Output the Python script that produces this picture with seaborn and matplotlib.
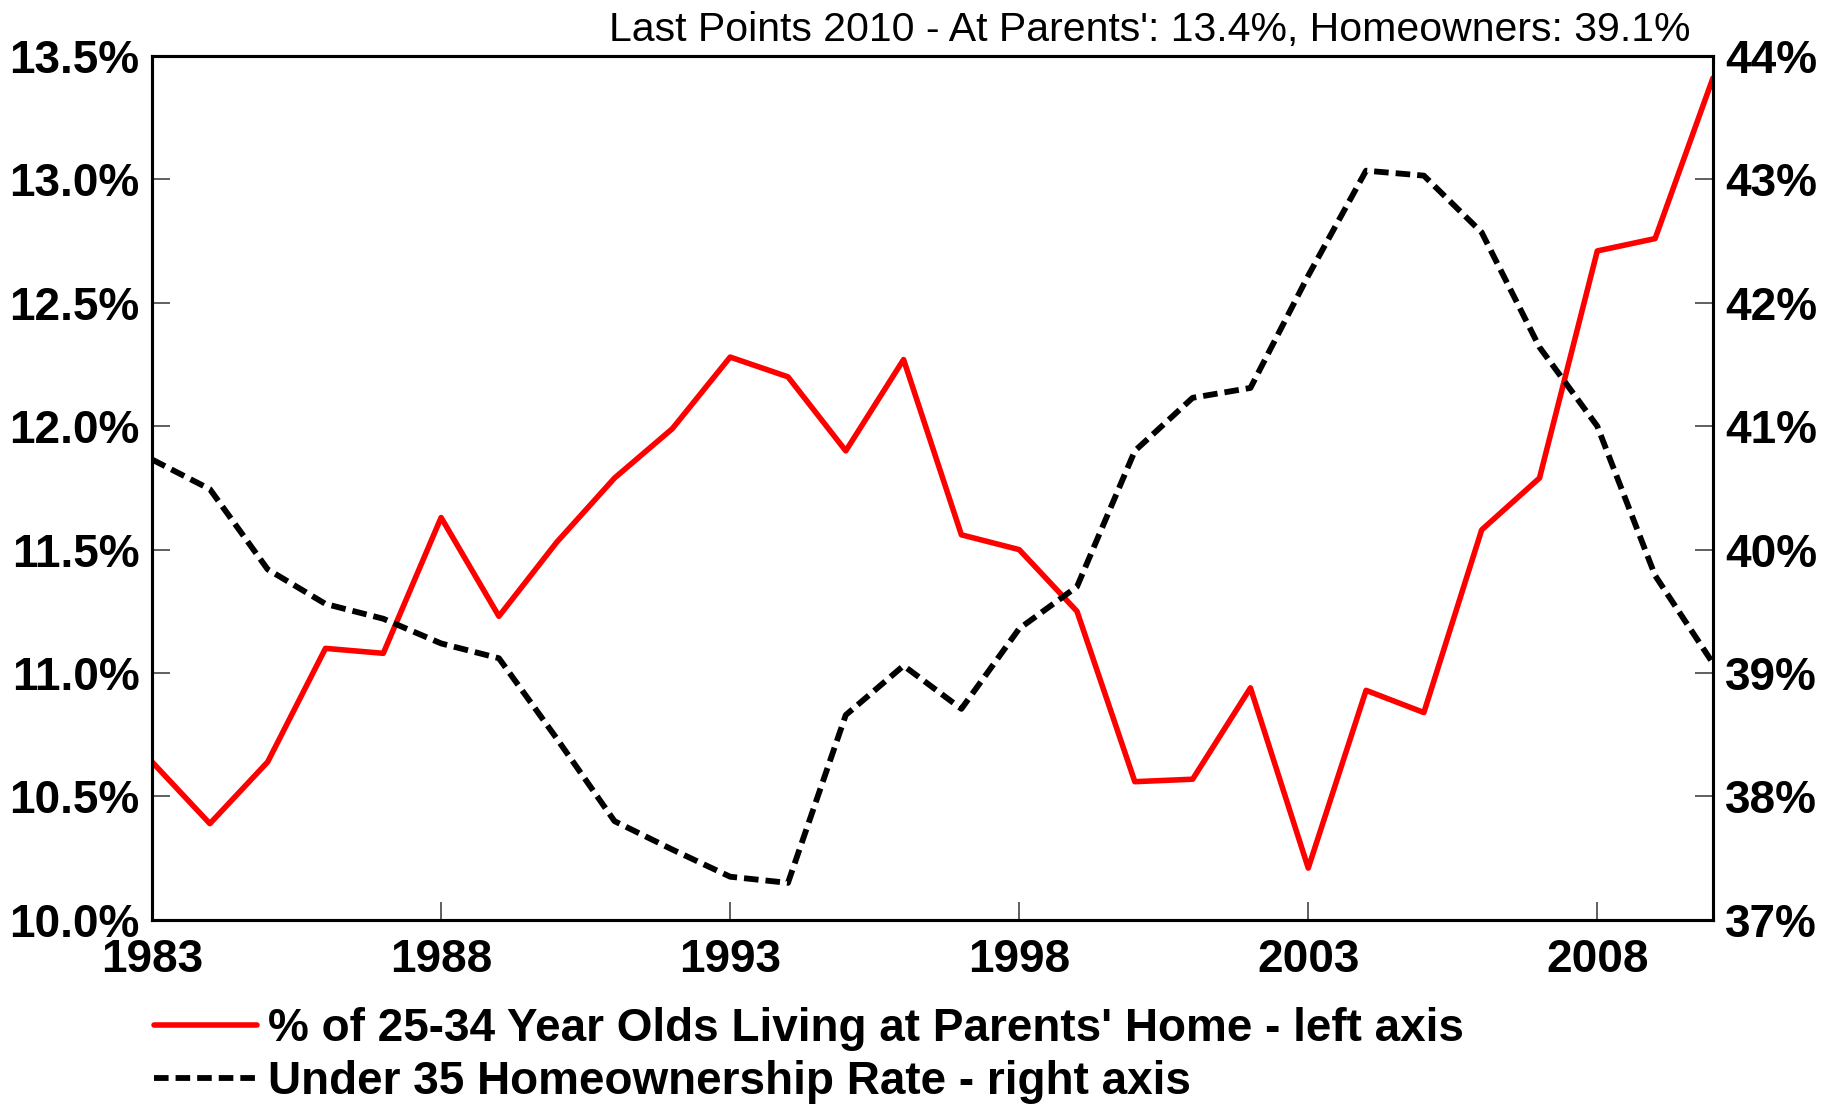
import pandas as pd
import seaborn as sns
import matplotlib.pyplot as plt
from matplotlib.ticker import FuncFormatter

# values
years = list(range(1983, 2011))
at_parents = [10.64, 10.39, 10.64, 11.10, 11.08, 11.63, 11.23, 11.53, 11.79, 11.99,
              12.28, 12.20, 11.90, 12.27, 11.56, 11.50, 11.25, 10.56, 10.57, 10.94,
              10.21, 10.93, 10.84, 11.58, 11.79, 12.71, 12.76, 13.41]
homeowners = [40.73, 40.49, 39.84, 39.56, 39.44, 39.24, 39.12, 38.47, 37.80, 37.57,
              37.35, 37.30, 38.66, 39.06, 38.71, 39.36, 39.70, 40.80, 41.23, 41.31,
              42.22, 43.07, 43.03, 42.57, 41.64, 41.00, 39.79, 39.08]

parents_label = "% of 25-34 Year Olds Living at Parents' Home - left axis"
owners_label = "Under 35 Homeownership Rate - right axis"
title_text = "Last Points 2010 - At Parents': 13.4%, Homeowners: 39.1%"

df = pd.DataFrame({"year": years, "at_parents": at_parents, "homeowners": homeowners})

sns.set_style("ticks")
plt.rcParams["font.family"] = ["Liberation Sans", "DejaVu Sans"]
plt.rcParams["text.color"] = "black"
plt.rcParams["xtick.color"] = "black"
plt.rcParams["ytick.color"] = "black"

fig = plt.figure(figsize=(18.32, 11.07), dpi=100)
ax = fig.add_axes([0.083, 0.169, 0.852, 0.7805])
ax2 = ax.twinx()

sns.lineplot(data=df, x="year", y="at_parents", ax=ax, color="#ff0000",
             linewidth=4.0, label=parents_label)
sns.lineplot(data=df, x="year", y="homeowners", ax=ax2, color="black",
             linewidth=4.2, label=owners_label)
ax2.lines[0].set_linestyle((0, (2.5, 1.2)))

for a in (ax, ax2):
    if a.get_legend() is not None:
        a.get_legend().remove()
    a.set_xlabel("")
    a.set_ylabel("")

ax.set_xlim(1983, 2010)
ax.set_ylim(10.0, 13.5)
ax2.set_ylim(37, 44)
ax.set_xticks([1983, 1988, 1993, 1998, 2003, 2008])
ax.set_yticks([10.0, 10.5, 11.0, 11.5, 12.0, 12.5, 13.0, 13.5])
ax2.set_yticks([37, 38, 39, 40, 41, 42, 43, 44])
ax.yaxis.set_major_formatter(FuncFormatter(lambda v, p: f"{v:.1f}%"))
ax2.yaxis.set_major_formatter(FuncFormatter(lambda v, p: f"{v:.0f}%"))

for a in (ax, ax2):
    a.tick_params(axis="both", direction="in", length=13, width=1.2,
                  color="#444444", labelcolor="black", labelsize=33, pad=9)
    for lab in a.get_xticklabels() + a.get_yticklabels():
        lab.set_fontweight("bold")
    for s in a.spines.values():
        s.set_linewidth(2.2)
        s.set_color("black")
        s.set_visible(True)
ax.tick_params(axis="x", pad=13)
ax.tick_params(axis="y", right=False)
ax2.tick_params(axis="y", left=False, right=True)

fig.text(0.923, 0.973, title_text, ha="right", va="center", fontsize=29.5,
         color="black")

handles = ax.get_lines()[:1] + ax2.get_lines()[:1]
fig.legend(handles, [parents_label, owners_label], loc="upper left",
           bbox_to_anchor=(0.084, 0.090), frameon=False, borderpad=0,
           borderaxespad=0, handlelength=2.25, handletextpad=0.25,
           labelspacing=0.18, prop={"size": 33, "weight": "bold"},
           labelcolor="black")

fig.savefig("out.png", dpi=100)
